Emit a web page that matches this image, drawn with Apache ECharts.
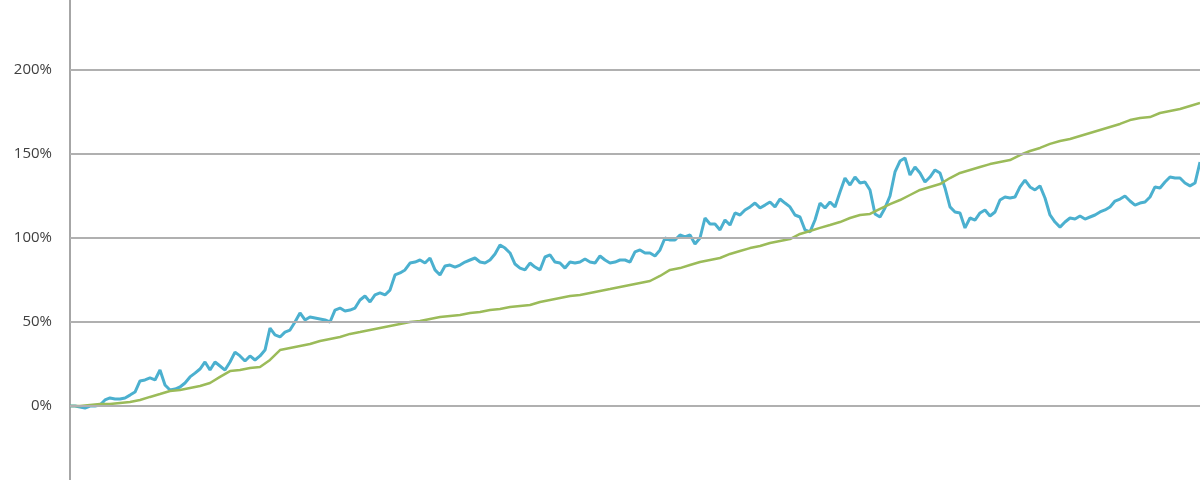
<!DOCTYPE html>
<html>
<head>
<meta charset="utf-8">
<script src="https://cdn.jsdelivr.net/npm/echarts@6/dist/echarts.min.js"></script>
<style>html,body{margin:0;padding:0;background:#fff;}#c{width:1200px;height:480px;}</style>
</head>
<body>
<div id="c"></div>
<script>
// Cumulative return (%) of the fund, sampled at evenly spaced periods (step 1)
const fundReturn = [
0,0,-0.6,-1.2,0,0,0.6,3.6,4.8,4.2,4.2,4.8,6.5,8.3,14.9,15.5,16.7,15.5,21.4,12.5,
9.5,10.1,11.3,13.7,17.3,19.6,22.0,26.2,21.4,26.2,23.8,21.4,26.2,32.1,29.8,26.8,29.8,27.4,29.8,33.3,
46.4,42.3,41.1,44.0,45.2,50.0,55.4,51.2,53.0,52.4,51.8,51.2,50.0,57.1,58.3,56.5,57.1,58.3,63.1,65.5,
61.9,66.1,67.3,66.1,69.0,78.0,79.2,81.0,85.1,85.7,86.9,85.1,88.1,81.0,78.0,83.3,83.9,82.7,83.9,85.7,
86.9,88.1,85.7,85.1,86.9,90.5,95.8,94.0,91.1,84.5,82.1,81.0,85.1,82.7,81.0,88.7,89.9,85.7,85.1,82.1,
85.7,85.1,85.7,87.5,85.7,85.1,89.3,86.9,85.1,85.7,86.9,86.9,85.7,91.7,92.9,91.1,91.1,89.3,92.9,100.0,
98.8,98.8,101.8,100.6,101.8,96.4,100.0,111.9,108.3,108.3,104.8,110.7,107.7,114.9,113.7,116.7,118.5,120.8,117.9,119.6,
121.4,118.5,123.2,120.8,118.5,113.7,112.5,104.8,103.6,110.7,120.8,117.9,121.4,118.5,127.4,135.7,131.5,136.3,132.7,133.3,
128.6,114.3,112.5,117.9,125.0,139.3,145.8,147.6,137.5,142.3,138.7,133.3,136.3,140.5,138.7,129.8,118.5,115.5,114.9,106.0,
111.9,110.7,114.9,116.7,113.1,115.5,122.6,124.4,123.8,124.4,130.4,134.5,130.4,128.6,131.0,123.8,113.7,109.5,106.5,109.5,
111.9,111.3,113.1,111.3,112.5,113.7,115.5,116.7,118.5,122.0,123.2,125.0,122.0,119.6,120.8,121.4,124.4,130.4,129.8,133.3,
136.3,135.7,135.7,132.7,131.0,132.7,145.2
];
// Cumulative return (%) of the benchmark, sampled every 2 periods
const benchReturn = [
0,0,0.6,1.2,1.2,1.8,2.4,3.6,5.4,7.1,8.9,9.5,10.7,11.9,13.7,17.3,20.8,21.4,22.6,23.2,
27.4,33.3,34.5,35.7,36.9,38.7,39.9,41.1,42.9,44.0,45.2,46.4,47.6,48.8,50.0,50.6,51.8,53.0,53.6,54.2,
55.4,56.0,57.1,57.7,58.9,59.5,60.1,61.9,63.1,64.3,65.5,66.1,67.3,68.5,69.6,70.8,72.0,73.2,74.4,77.4,
81.0,82.1,83.9,85.7,86.9,88.1,90.5,92.3,94.0,95.2,97.0,98.2,99.4,102.4,104.2,106.0,107.7,109.5,111.9,113.7,
114.3,117.3,120.2,122.6,125.6,128.6,130.4,132.1,135.7,138.7,140.5,142.3,144.0,145.2,146.4,149.4,151.8,153.6,156.0,157.7,
158.9,160.7,162.5,164.3,166.1,167.9,170.2,171.4,172.0,174.4,175.6,176.8,178.6,180.4
];
const yTicks = [0, 50, 100, 150, 200];
const yMin = -44.05, yMax = 241.67;

const chart = echarts.init(document.getElementById('c'), null, {renderer: 'canvas'});
chart.setOption({
  animation: false,
  backgroundColor: '#ffffff',
  grid: {left: 70, right: 0, top: 0, bottom: 0},
  xAxis: {
    type: 'value', min: 0, max: fundReturn.length - 1,
    show: false
  },
  yAxis: {
    type: 'value', min: yMin, max: yMax,
    axisLine: {show: true, lineStyle: {color: '#a6a6a6', width: 2}},
    axisTick: {show: false, customValues: yTicks},
    splitLine: {show: false},
    axisLabel: {
      customValues: yTicks,
      margin: 18,
      color: '#404040',
      fontFamily: 'Open Sans',
      fontSize: 15,
      formatter: v => v + '%'
    }
  },
  series: [
    {
      name: 'Fund', type: 'line', showSymbol: false, symbol: 'none',
      lineStyle: {color: '#4bb0cf', width: 3},
      data: fundReturn.map((v, i) => [i, v]),
      markLine: {
        silent: true, symbol: 'none', label: {show: false},
        lineStyle: {color: '#b0b0b0', width: 2, type: 'solid'},
        emphasis: {disabled: true},
        data: yTicks.map(t => ({yAxis: t}))
      },
      z: 3
    },
    {
      name: 'Benchmark', type: 'line', showSymbol: false, symbol: 'none',
      lineStyle: {color: '#9bbb59', width: 2.5},
      data: benchReturn.map((v, i) => [i * 2, v]),
      z: 4
    }
  ]
});
</script>
</body>
</html>
